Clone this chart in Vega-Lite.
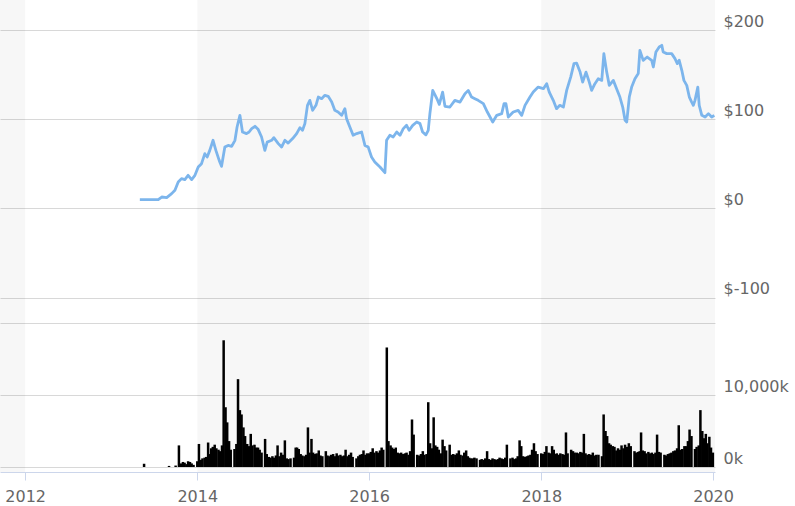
{
  "$schema": "https://vega.github.io/schema/vega-lite/v6.json",
  "width": 715,
  "height": 472,
  "autosize": {"type": "none"},
  "padding": {"left": 0, "top": 0, "right": 80, "bottom": 34},
  "background": "#ffffff",
  "config": {
    "view": {"stroke": null},
    "font": "DejaVu Sans",
    "axis": {"labelFont": "DejaVu Sans", "labelFontSize": 16, "labelColor": "#666666", "title": null}
  },
  "datasets": {
    "bands": [
      {"start": "2011-09-16", "end": "2012-01-01"},
      {"start": "2014-01-01", "end": "2016-01-01"},
      {"start": "2018-01-01", "end": "2020-01-09"}
    ],
    "price": [
      {"date": "2013-05-02", "price": 9.8}, {"date": "2013-07-19", "price": 9.8}, {"date": "2013-08-03", "price": 12.7},
      {"date": "2013-08-24", "price": 12.0}, {"date": "2013-09-14", "price": 16.5}, {"date": "2013-09-28", "price": 20.2},
      {"date": "2013-10-12", "price": 29.5}, {"date": "2013-10-26", "price": 33.3}, {"date": "2013-11-09", "price": 32.2},
      {"date": "2013-11-23", "price": 37.0}, {"date": "2013-12-08", "price": 32.2}, {"date": "2013-12-22", "price": 37.0},
      {"date": "2014-01-05", "price": 46.3}, {"date": "2014-01-19", "price": 50.1}, {"date": "2014-02-02", "price": 61.3},
      {"date": "2014-02-12", "price": 57.5}, {"date": "2014-02-23", "price": 65.0}, {"date": "2014-03-09", "price": 76.3},
      {"date": "2014-03-21", "price": 65.0}, {"date": "2014-04-04", "price": 53.8}, {"date": "2014-04-14", "price": 47.1},
      {"date": "2014-04-28", "price": 68.7}, {"date": "2014-05-12", "price": 70.6}, {"date": "2014-05-27", "price": 69.5},
      {"date": "2014-06-10", "price": 76.3}, {"date": "2014-06-19", "price": 91.2}, {"date": "2014-07-01", "price": 104.3},
      {"date": "2014-07-12", "price": 85.6}, {"date": "2014-07-29", "price": 83.8}, {"date": "2014-08-09", "price": 85.6},
      {"date": "2014-08-20", "price": 89.4}, {"date": "2014-09-03", "price": 92.0}, {"date": "2014-09-17", "price": 88.3},
      {"date": "2014-10-01", "price": 80.0}, {"date": "2014-10-15", "price": 65.0}, {"date": "2014-10-25", "price": 74.3},
      {"date": "2014-11-13", "price": 76.3}, {"date": "2014-11-22", "price": 79.3}, {"date": "2014-12-11", "price": 72.6},
      {"date": "2014-12-25", "price": 68.7}, {"date": "2015-01-08", "price": 76.3}, {"date": "2015-01-22", "price": 73.2},
      {"date": "2015-02-10", "price": 78.2}, {"date": "2015-02-27", "price": 83.8}, {"date": "2015-03-13", "price": 90.5},
      {"date": "2015-03-24", "price": 87.5}, {"date": "2015-04-03", "price": 95.0}, {"date": "2015-04-14", "price": 115.5},
      {"date": "2015-04-24", "price": 121.1}, {"date": "2015-05-06", "price": 109.9}, {"date": "2015-05-20", "price": 115.5},
      {"date": "2015-05-30", "price": 124.8}, {"date": "2015-06-13", "price": 123.0}, {"date": "2015-06-27", "price": 126.7},
      {"date": "2015-07-11", "price": 125.6}, {"date": "2015-07-26", "price": 119.2}, {"date": "2015-08-08", "price": 109.9},
      {"date": "2015-08-22", "price": 108.0}, {"date": "2015-09-06", "price": 104.3}, {"date": "2015-09-20", "price": 111.8},
      {"date": "2015-09-27", "price": 100.6}, {"date": "2015-10-11", "price": 91.2}, {"date": "2015-10-25", "price": 81.9},
      {"date": "2015-11-09", "price": 83.8}, {"date": "2015-11-30", "price": 85.6}, {"date": "2015-12-14", "price": 70.6},
      {"date": "2015-12-28", "price": 68.7}, {"date": "2016-01-11", "price": 57.5}, {"date": "2016-01-25", "price": 51.9},
      {"date": "2016-02-16", "price": 46.3}, {"date": "2016-03-08", "price": 40.0}, {"date": "2016-03-15", "price": 76.3},
      {"date": "2016-03-29", "price": 81.9}, {"date": "2016-04-12", "price": 80.0}, {"date": "2016-04-27", "price": 85.6},
      {"date": "2016-05-11", "price": 81.9}, {"date": "2016-05-25", "price": 89.4}, {"date": "2016-06-08", "price": 93.1},
      {"date": "2016-06-19", "price": 87.5}, {"date": "2016-07-04", "price": 93.1}, {"date": "2016-07-21", "price": 96.8},
      {"date": "2016-08-04", "price": 95.0}, {"date": "2016-08-15", "price": 85.6}, {"date": "2016-08-29", "price": 82.4},
      {"date": "2016-09-08", "price": 87.5}, {"date": "2016-09-15", "price": 106.2}, {"date": "2016-09-27", "price": 132.3},
      {"date": "2016-10-14", "price": 123.4}, {"date": "2016-10-25", "price": 116.6}, {"date": "2016-11-08", "price": 130.4},
      {"date": "2016-11-18", "price": 114.4}, {"date": "2016-12-09", "price": 113.6}, {"date": "2016-12-30", "price": 121.1},
      {"date": "2017-01-21", "price": 119.2}, {"date": "2017-02-11", "price": 128.6}, {"date": "2017-02-25", "price": 132.3},
      {"date": "2017-03-11", "price": 124.8}, {"date": "2017-03-25", "price": 123.0}, {"date": "2017-04-08", "price": 121.1},
      {"date": "2017-04-30", "price": 117.4}, {"date": "2017-05-17", "price": 108.0}, {"date": "2017-06-09", "price": 96.8},
      {"date": "2017-06-26", "price": 104.3}, {"date": "2017-07-17", "price": 106.2}, {"date": "2017-07-27", "price": 117.4},
      {"date": "2017-08-04", "price": 117.4}, {"date": "2017-08-14", "price": 102.4}, {"date": "2017-09-04", "price": 108.0},
      {"date": "2017-09-25", "price": 109.9}, {"date": "2017-10-10", "price": 104.3}, {"date": "2017-10-24", "price": 115.5},
      {"date": "2017-11-14", "price": 124.8}, {"date": "2017-11-28", "price": 130.4}, {"date": "2017-12-19", "price": 136.0},
      {"date": "2018-01-10", "price": 134.2}, {"date": "2018-01-24", "price": 139.8}, {"date": "2018-02-04", "price": 130.4},
      {"date": "2018-02-21", "price": 121.1}, {"date": "2018-03-07", "price": 111.8}, {"date": "2018-03-21", "price": 115.5},
      {"date": "2018-04-05", "price": 113.6}, {"date": "2018-04-19", "price": 132.3}, {"date": "2018-05-06", "price": 147.2},
      {"date": "2018-05-20", "price": 162.3}, {"date": "2018-05-31", "price": 162.9}, {"date": "2018-06-15", "price": 152.8},
      {"date": "2018-06-26", "price": 141.6}, {"date": "2018-07-10", "price": 152.8}, {"date": "2018-07-24", "price": 141.6},
      {"date": "2018-08-03", "price": 132.3}, {"date": "2018-08-17", "price": 139.8}, {"date": "2018-08-31", "price": 145.4},
      {"date": "2018-09-15", "price": 143.5}, {"date": "2018-09-24", "price": 173.5}, {"date": "2018-10-06", "price": 152.8},
      {"date": "2018-10-17", "price": 137.9}, {"date": "2018-11-03", "price": 143.5}, {"date": "2018-11-17", "price": 134.2},
      {"date": "2018-12-01", "price": 124.8}, {"date": "2018-12-13", "price": 113.6}, {"date": "2018-12-23", "price": 98.7},
      {"date": "2018-12-30", "price": 96.8}, {"date": "2019-01-10", "price": 124.8}, {"date": "2019-01-20", "price": 136.0},
      {"date": "2019-02-03", "price": 145.4}, {"date": "2019-02-17", "price": 151.1}, {"date": "2019-02-24", "price": 177.2},
      {"date": "2019-03-10", "price": 166.0}, {"date": "2019-03-27", "price": 169.7}, {"date": "2019-04-15", "price": 166.0},
      {"date": "2019-04-22", "price": 158.5}, {"date": "2019-05-03", "price": 175.3}, {"date": "2019-05-17", "price": 180.9},
      {"date": "2019-05-28", "price": 182.8}, {"date": "2019-06-03", "price": 175.3}, {"date": "2019-06-18", "price": 173.5},
      {"date": "2019-07-09", "price": 173.5}, {"date": "2019-07-23", "price": 167.9}, {"date": "2019-08-02", "price": 162.3},
      {"date": "2019-08-10", "price": 166.0}, {"date": "2019-08-21", "price": 154.8}, {"date": "2019-08-30", "price": 143.5},
      {"date": "2019-09-11", "price": 137.9}, {"date": "2019-09-22", "price": 124.8}, {"date": "2019-10-02", "price": 119.2},
      {"date": "2019-10-09", "price": 115.5}, {"date": "2019-10-16", "price": 121.1}, {"date": "2019-10-28", "price": 136.0},
      {"date": "2019-11-03", "price": 115.5}, {"date": "2019-11-14", "price": 104.3}, {"date": "2019-11-28", "price": 102.4},
      {"date": "2019-12-12", "price": 106.2}, {"date": "2019-12-26", "price": 102.4}, {"date": "2020-01-06", "price": 104.3}
    ],
    "volume": [
      {"date": "2013-05-20", "v": 450}, {"date": "2013-09-03", "v": 150}, {"date": "2013-10-01", "v": 200},
      {"date": "2013-10-15", "v": 3000}, {"date": "2013-10-23", "v": 500}, {"date": "2013-11-01", "v": 700},
      {"date": "2013-11-08", "v": 600}, {"date": "2013-11-16", "v": 400}, {"date": "2013-11-23", "v": 800},
      {"date": "2013-12-01", "v": 700}, {"date": "2013-12-08", "v": 500}, {"date": "2013-12-16", "v": 300},
      {"date": "2014-01-01", "v": 800}, {"date": "2014-01-08", "v": 3200}, {"date": "2014-01-16", "v": 1000}, {"date": "2014-01-23", "v": 1200},
      {"date": "2014-02-01", "v": 1300}, {"date": "2014-02-08", "v": 1400}, {"date": "2014-02-16", "v": 3400}, {"date": "2014-02-23", "v": 1800},
      {"date": "2014-03-01", "v": 2600}, {"date": "2014-03-08", "v": 2800}, {"date": "2014-03-16", "v": 3100}, {"date": "2014-03-23", "v": 2600},
      {"date": "2014-04-01", "v": 2400}, {"date": "2014-04-08", "v": 2200}, {"date": "2014-04-16", "v": 3000}, {"date": "2014-04-23", "v": 17600},
      {"date": "2014-05-01", "v": 8300}, {"date": "2014-05-08", "v": 6200}, {"date": "2014-05-16", "v": 3600}, {"date": "2014-05-23", "v": 2400},
      {"date": "2014-06-08", "v": 2500}, {"date": "2014-06-16", "v": 3200}, {"date": "2014-06-23", "v": 12200},
      {"date": "2014-07-01", "v": 7900}, {"date": "2014-07-08", "v": 7300}, {"date": "2014-07-16", "v": 5500}, {"date": "2014-07-23", "v": 4300},
      {"date": "2014-08-01", "v": 3200}, {"date": "2014-08-08", "v": 2900}, {"date": "2014-08-16", "v": 4600}, {"date": "2014-08-23", "v": 3000},
      {"date": "2014-09-01", "v": 3100}, {"date": "2014-09-08", "v": 2700}, {"date": "2014-09-16", "v": 2700}, {"date": "2014-09-23", "v": 2400},
      {"date": "2014-10-01", "v": 2000}, {"date": "2014-10-16", "v": 3900}, {"date": "2014-10-23", "v": 1800},
      {"date": "2014-11-01", "v": 1400}, {"date": "2014-11-08", "v": 1300}, {"date": "2014-11-16", "v": 1500}, {"date": "2014-11-23", "v": 1300},
      {"date": "2014-12-01", "v": 1600}, {"date": "2014-12-08", "v": 3000}, {"date": "2014-12-16", "v": 1500}, {"date": "2014-12-23", "v": 2000},
      {"date": "2015-01-01", "v": 1700}, {"date": "2015-01-08", "v": 3700}, {"date": "2015-01-16", "v": 1200}, {"date": "2015-01-23", "v": 1100},
      {"date": "2015-02-01", "v": 1200}, {"date": "2015-02-16", "v": 1300}, {"date": "2015-02-23", "v": 2700},
      {"date": "2015-03-01", "v": 2700}, {"date": "2015-03-08", "v": 2500}, {"date": "2015-03-16", "v": 1800}, {"date": "2015-03-23", "v": 1600},
      {"date": "2015-04-01", "v": 1500}, {"date": "2015-04-08", "v": 1700}, {"date": "2015-04-16", "v": 5500}, {"date": "2015-04-23", "v": 2000},
      {"date": "2015-05-01", "v": 3900}, {"date": "2015-05-08", "v": 2000}, {"date": "2015-05-16", "v": 1800}, {"date": "2015-05-23", "v": 1900},
      {"date": "2015-06-01", "v": 2300}, {"date": "2015-06-08", "v": 1600}, {"date": "2015-06-16", "v": 1500},
      {"date": "2015-07-01", "v": 2200}, {"date": "2015-07-08", "v": 1600}, {"date": "2015-07-16", "v": 1500}, {"date": "2015-07-23", "v": 1700},
      {"date": "2015-08-01", "v": 1800}, {"date": "2015-08-08", "v": 1500}, {"date": "2015-08-16", "v": 1900}, {"date": "2015-08-23", "v": 1600},
      {"date": "2015-09-01", "v": 1700}, {"date": "2015-09-08", "v": 1500}, {"date": "2015-09-16", "v": 1600}, {"date": "2015-09-23", "v": 2400},
      {"date": "2015-10-01", "v": 1500}, {"date": "2015-10-08", "v": 1700}, {"date": "2015-10-16", "v": 2000}, {"date": "2015-10-23", "v": 1400},
      {"date": "2015-11-08", "v": 1200}, {"date": "2015-11-16", "v": 1500}, {"date": "2015-11-23", "v": 1700},
      {"date": "2015-12-01", "v": 1800}, {"date": "2015-12-08", "v": 2300}, {"date": "2015-12-16", "v": 1700}, {"date": "2015-12-23", "v": 1900},
      {"date": "2016-01-01", "v": 1900}, {"date": "2016-01-08", "v": 2100}, {"date": "2016-01-16", "v": 2600}, {"date": "2016-01-23", "v": 2000},
      {"date": "2016-02-01", "v": 2200}, {"date": "2016-02-08", "v": 2000}, {"date": "2016-02-16", "v": 2300}, {"date": "2016-02-23", "v": 2700},
      {"date": "2016-03-01", "v": 2400}, {"date": "2016-03-16", "v": 16600}, {"date": "2016-03-23", "v": 3600},
      {"date": "2016-04-01", "v": 3000}, {"date": "2016-04-08", "v": 2700}, {"date": "2016-04-16", "v": 2500}, {"date": "2016-04-23", "v": 2700},
      {"date": "2016-05-01", "v": 2000}, {"date": "2016-05-08", "v": 1900}, {"date": "2016-05-16", "v": 2000}, {"date": "2016-05-23", "v": 1800},
      {"date": "2016-06-01", "v": 1900}, {"date": "2016-06-08", "v": 2000}, {"date": "2016-06-16", "v": 1700}, {"date": "2016-06-23", "v": 2200},
      {"date": "2016-07-01", "v": 6600}, {"date": "2016-07-08", "v": 4500}, {"date": "2016-07-23", "v": 1700},
      {"date": "2016-08-01", "v": 1600}, {"date": "2016-08-08", "v": 1800}, {"date": "2016-08-16", "v": 2200}, {"date": "2016-08-23", "v": 1700},
      {"date": "2016-09-01", "v": 1800}, {"date": "2016-09-08", "v": 9000}, {"date": "2016-09-16", "v": 3300}, {"date": "2016-09-23", "v": 2600},
      {"date": "2016-10-01", "v": 6900}, {"date": "2016-10-08", "v": 3000}, {"date": "2016-10-16", "v": 2800}, {"date": "2016-10-23", "v": 2400},
      {"date": "2016-11-01", "v": 1900}, {"date": "2016-11-08", "v": 3800}, {"date": "2016-11-16", "v": 2900}, {"date": "2016-11-23", "v": 2300},
      {"date": "2016-12-08", "v": 3100}, {"date": "2016-12-16", "v": 1700}, {"date": "2016-12-23", "v": 1800},
      {"date": "2017-01-01", "v": 1700}, {"date": "2017-01-08", "v": 1900}, {"date": "2017-01-16", "v": 2300}, {"date": "2017-01-23", "v": 1700},
      {"date": "2017-02-01", "v": 1600}, {"date": "2017-02-08", "v": 2000}, {"date": "2017-02-16", "v": 2300}, {"date": "2017-02-23", "v": 1500},
      {"date": "2017-03-01", "v": 1300}, {"date": "2017-03-08", "v": 1200}, {"date": "2017-03-16", "v": 1200}, {"date": "2017-03-23", "v": 1300},
      {"date": "2017-04-01", "v": 1200}, {"date": "2017-04-16", "v": 1000}, {"date": "2017-04-23", "v": 1100},
      {"date": "2017-05-01", "v": 1000}, {"date": "2017-05-08", "v": 1200}, {"date": "2017-05-16", "v": 2200}, {"date": "2017-05-23", "v": 1100},
      {"date": "2017-06-01", "v": 1000}, {"date": "2017-06-08", "v": 1200}, {"date": "2017-06-16", "v": 1100}, {"date": "2017-06-23", "v": 1000},
      {"date": "2017-07-01", "v": 1100}, {"date": "2017-07-08", "v": 1300}, {"date": "2017-07-16", "v": 1200}, {"date": "2017-07-23", "v": 1100},
      {"date": "2017-08-01", "v": 1300}, {"date": "2017-08-08", "v": 3100}, {"date": "2017-08-23", "v": 1200},
      {"date": "2017-09-01", "v": 1300}, {"date": "2017-09-08", "v": 1100}, {"date": "2017-09-16", "v": 1200}, {"date": "2017-09-23", "v": 1500},
      {"date": "2017-10-01", "v": 3700}, {"date": "2017-10-08", "v": 2900}, {"date": "2017-10-16", "v": 1500}, {"date": "2017-10-23", "v": 1400},
      {"date": "2017-11-01", "v": 1500}, {"date": "2017-11-08", "v": 1600}, {"date": "2017-11-16", "v": 1700}, {"date": "2017-11-23", "v": 2400},
      {"date": "2017-12-01", "v": 3300}, {"date": "2017-12-08", "v": 2200}, {"date": "2017-12-16", "v": 1800},
      {"date": "2018-01-01", "v": 1900}, {"date": "2018-01-08", "v": 1800}, {"date": "2018-01-16", "v": 2100}, {"date": "2018-01-23", "v": 2900},
      {"date": "2018-02-01", "v": 2000}, {"date": "2018-02-08", "v": 1900}, {"date": "2018-02-16", "v": 2900}, {"date": "2018-02-23", "v": 2400},
      {"date": "2018-03-01", "v": 1800}, {"date": "2018-03-08", "v": 1900}, {"date": "2018-03-16", "v": 1700}, {"date": "2018-03-23", "v": 1900},
      {"date": "2018-04-01", "v": 1800}, {"date": "2018-04-08", "v": 1700}, {"date": "2018-04-16", "v": 4800}, {"date": "2018-04-23", "v": 1900},
      {"date": "2018-05-08", "v": 2400}, {"date": "2018-05-16", "v": 2200}, {"date": "2018-05-23", "v": 2000},
      {"date": "2018-06-01", "v": 2000}, {"date": "2018-06-08", "v": 1900}, {"date": "2018-06-16", "v": 2100}, {"date": "2018-06-23", "v": 2000},
      {"date": "2018-07-01", "v": 4600}, {"date": "2018-07-08", "v": 1900}, {"date": "2018-07-16", "v": 1700}, {"date": "2018-07-23", "v": 1800},
      {"date": "2018-08-01", "v": 1700}, {"date": "2018-08-08", "v": 2000}, {"date": "2018-08-16", "v": 1600}, {"date": "2018-08-23", "v": 1700},
      {"date": "2018-09-01", "v": 1700}, {"date": "2018-09-16", "v": 1500}, {"date": "2018-09-23", "v": 7300},
      {"date": "2018-10-01", "v": 5000}, {"date": "2018-10-08", "v": 4300}, {"date": "2018-10-16", "v": 3300}, {"date": "2018-10-23", "v": 3100},
      {"date": "2018-11-01", "v": 2900}, {"date": "2018-11-08", "v": 2800}, {"date": "2018-11-16", "v": 2300}, {"date": "2018-11-23", "v": 2600},
      {"date": "2018-12-01", "v": 2400}, {"date": "2018-12-08", "v": 3000}, {"date": "2018-12-16", "v": 2600}, {"date": "2018-12-23", "v": 3100},
      {"date": "2019-01-01", "v": 2800}, {"date": "2019-01-08", "v": 3300}, {"date": "2019-01-16", "v": 2900},
      {"date": "2019-02-01", "v": 2200}, {"date": "2019-02-08", "v": 2000}, {"date": "2019-02-16", "v": 2100}, {"date": "2019-02-23", "v": 2200},
      {"date": "2019-03-01", "v": 4800}, {"date": "2019-03-08", "v": 2300}, {"date": "2019-03-16", "v": 2200}, {"date": "2019-03-23", "v": 1900},
      {"date": "2019-04-01", "v": 2100}, {"date": "2019-04-08", "v": 1900}, {"date": "2019-04-16", "v": 2000}, {"date": "2019-04-23", "v": 1800},
      {"date": "2019-05-01", "v": 2000}, {"date": "2019-05-08", "v": 4500}, {"date": "2019-05-16", "v": 2100}, {"date": "2019-05-23", "v": 2000},
      {"date": "2019-06-08", "v": 1700}, {"date": "2019-06-16", "v": 1600}, {"date": "2019-06-23", "v": 1800},
      {"date": "2019-07-01", "v": 1900}, {"date": "2019-07-08", "v": 2000}, {"date": "2019-07-16", "v": 2200}, {"date": "2019-07-23", "v": 2300},
      {"date": "2019-08-01", "v": 2600}, {"date": "2019-08-08", "v": 5800}, {"date": "2019-08-16", "v": 2400}, {"date": "2019-08-23", "v": 2500},
      {"date": "2019-09-01", "v": 2900}, {"date": "2019-09-08", "v": 2900}, {"date": "2019-09-16", "v": 3600}, {"date": "2019-09-23", "v": 5200},
      {"date": "2019-10-01", "v": 4300}, {"date": "2019-10-16", "v": 2500}, {"date": "2019-10-23", "v": 2800},
      {"date": "2019-11-01", "v": 3000}, {"date": "2019-11-08", "v": 7900}, {"date": "2019-11-16", "v": 5000}, {"date": "2019-11-23", "v": 4000},
      {"date": "2019-12-01", "v": 4600}, {"date": "2019-12-08", "v": 3300}, {"date": "2019-12-16", "v": 4200}, {"date": "2019-12-23", "v": 2700},
      {"date": "2019-12-31", "v": 2000}
    ]
  },
  "layer": [
    {
      "data": {"name": "bands"},
      "mark": {"type": "rect", "fill": "#000000", "fillOpacity": 0.031},
      "encoding": {
        "x": {
          "field": "start", "type": "temporal",
          "scale": {"type": "utc", "padding": 0, "domain": [{"year": 2011, "month": 9, "date": 16, "utc": true}, {"year": 2020, "month": 1, "date": 9, "utc": true}]},
          "axis": {
            "orient": "bottom", "grid": false, "title": null,
            "values": [{"year": 2012, "month": 1, "date": 1, "utc": true}, {"year": 2014, "month": 1, "date": 1, "utc": true}, {"year": 2016, "month": 1, "date": 1, "utc": true}, {"year": 2018, "month": 1, "date": 1, "utc": true}, {"year": 2020, "month": 1, "date": 1, "utc": true}],
            "labelExpr": "utcFormat(datum.value, '%Y')",
            "domainColor": "#ccd6eb", "tickColor": "#ccd6eb", "tickSize": 8, "labelPadding": 8,
            "labelFlush": false, "labelOverlap": false
          }
        },
        "x2": {"field": "end"}
      }
    },
    {
      "data": {"name": "price"},
      "mark": {"type": "line", "color": "#7cb5ec", "strokeWidth": 2.8, "strokeJoin": "round"},
      "encoding": {
        "x": {
          "field": "date", "type": "temporal",
          "scale": {"type": "utc", "padding": 0, "domain": [{"year": 2011, "month": 9, "date": 16, "utc": true}, {"year": 2020, "month": 1, "date": 9, "utc": true}]}
        },
        "y": {
          "field": "price", "type": "quantitative",
          "scale": {"domain": [-100, 200], "range": [297.5, 30], "nice": false, "zero": false},
          "axis": {
            "orient": "right", "values": [-100, 0, 100, 200], "labelExpr": "'$' + datum.value",
            "grid": true, "gridColor": "#d8d8d8", "domain": false, "ticks": false,
            "labelPadding": 8, "labelOffset": -9, "title": null
          }
        }
      }
    },
    {
      "data": {"name": "volume"},
      "mark": {"type": "bar", "color": "#000000", "width": 2.5},
      "encoding": {
        "x": {
          "field": "date", "type": "temporal",
          "scale": {"type": "utc", "padding": 0, "domain": [{"year": 2011, "month": 9, "date": 16, "utc": true}, {"year": 2020, "month": 1, "date": 9, "utc": true}]}
        },
        "y": {
          "field": "v", "type": "quantitative", "stack": null,
          "scale": {"domain": [0, 20000], "range": [467, 323], "nice": false},
          "axis": {
            "orient": "right", "values": [0, 10000, 20000],
            "labelExpr": "datum.value >= 20000 ? '' : format(datum.value, ',') + 'k'",
            "grid": true, "gridColor": "#d8d8d8", "domain": false, "ticks": false,
            "labelPadding": 8, "labelOffset": -9, "title": null
          }
        }
      }
    }
  ],
  "resolve": {"scale": {"y": "independent"}, "axis": {"y": "independent"}}
}
